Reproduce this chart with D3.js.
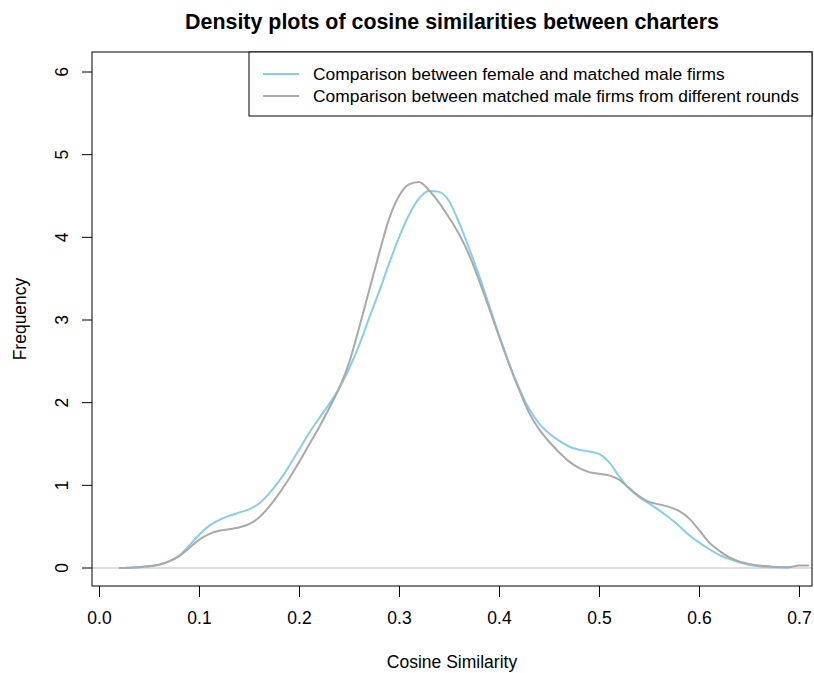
<!DOCTYPE html>
<html>
<head>
<meta charset="utf-8">
<script src="https://cdn.jsdelivr.net/npm/d3@7"></script>
<style>
  body { margin: 0; background: #fff; }
  text { font-family: "Liberation Sans", Arial, sans-serif; fill: #000; }
</style>
</head>
<body>
<div id="chart"></div>
<script>
// grid of x positions (cosine similarity)
var xs = [0.02,0.03,0.04,0.05,0.06,0.07,0.08,0.09,0.10,0.11,0.12,0.13,0.14,0.15,0.16,0.17,0.18,0.19,
          0.20,0.21,0.22,0.23,0.24,0.25,0.26,0.27,0.28,0.29,0.30,0.31,0.32,0.33,0.34,0.35,0.36,0.37,0.38,0.39,
          0.40,0.41,0.42,0.43,0.44,0.45,0.46,0.47,0.48,0.49,0.50,0.51,0.52,0.53,0.54,0.55,0.56,0.57,0.58,0.59,
          0.60,0.61,0.62,0.63,0.64,0.65,0.66,0.67,0.68,0.69,0.70,0.71];

// female vs matched male firms
var femaleMale = [0.00,0.003,0.01,0.02,0.04,0.08,0.15,0.27,0.40,0.51,0.58,0.63,0.67,0.71,0.78,0.90,1.05,1.23,
                  1.43,1.63,1.81,1.98,2.17,2.41,2.69,3.02,3.34,3.68,4.00,4.27,4.47,4.56,4.55,4.44,4.18,3.87,3.54,3.18,
                  2.82,2.48,2.18,1.93,1.75,1.63,1.54,1.47,1.43,1.41,1.38,1.28,1.11,0.96,0.86,0.78,0.70,0.61,0.51,0.40,
                  0.31,0.23,0.16,0.11,0.07,0.04,0.02,0.01,0.01,0.005];

// matched male firms from different rounds
var maleRounds = [0.00,0.003,0.01,0.02,0.04,0.08,0.14,0.24,0.34,0.41,0.45,0.47,0.49,0.53,0.61,0.74,0.90,1.08,
                  1.28,1.49,1.70,1.93,2.17,2.48,2.90,3.35,3.80,4.22,4.50,4.64,4.67,4.57,4.42,4.24,4.04,3.79,3.48,3.15,
                  2.80,2.47,2.16,1.88,1.68,1.53,1.40,1.29,1.21,1.16,1.14,1.12,1.07,0.97,0.87,0.80,0.77,0.74,0.69,0.60,
                  0.46,0.31,0.21,0.13,0.08,0.05,0.03,0.02,0.01,0.01,0.03,0.03];

var xTicks = [0.0,0.1,0.2,0.3,0.4,0.5,0.6,0.7];
var yTicks = [0,1,2,3,4,5,6];
var legendLabels = ["Comparison between female and matched male firms",
                    "Comparison between matched male firms from different rounds"];
var colors = ["#87ceeb", "#a9a9a9"];

var W = 814, H = 673;
var box = {left: 92, right: 812, top: 52, bottom: 586};

var svg = d3.select("#chart")
    .append("svg")
    .attr("width", W)
    .attr("height", H);

var x = d3.scaleLinear().domain([0, 0.7]).range([99, 799]);
var y = d3.scaleLinear().domain([0, 6]).range([568, 72]);

// zero line
svg.append("line")
    .attr("x1", box.left).attr("x2", box.right)
    .attr("y1", y(0)).attr("y2", y(0))
    .attr("stroke", "#d3d3d3").attr("stroke-width", 1.5);

// density lines
var series = [femaleMale, maleRounds];
var line = d3.line()
    .x(function(d) { return x(d[0]); })
    .y(function(d) { return y(d[1]); })
    .curve(d3.curveMonotoneX);

series.forEach(function(vals, i) {
    var pts = vals.map(function(v, j) { return [xs[j], v]; });
    svg.append("path")
        .datum(pts)
        .attr("fill", "none")
        .attr("stroke", colors[i])
        .attr("stroke-width", 2)
        .attr("d", line);
});

// box
svg.append("rect")
    .attr("x", box.left).attr("y", box.top)
    .attr("width", box.right - box.left).attr("height", box.bottom - box.top)
    .attr("fill", "none").attr("stroke", "#000").attr("stroke-width", 1);

// x axis
var xAxis = svg.append("g")
    .attr("transform", "translate(0," + box.bottom + ")")
    .call(d3.axisBottom(x).tickValues(xTicks).tickFormat(d3.format(".1f")).tickSize(11).tickPadding(15));
xAxis.select(".domain").remove();
xAxis.selectAll("text").style("font-size", "17.5px").attr("font-family", "Liberation Sans, Arial, sans-serif");

// y axis
var yAxis = svg.append("g")
    .attr("transform", "translate(" + box.left + ",0)")
    .call(d3.axisLeft(y).tickValues(yTicks).tickSize(10).tickFormat(d3.format("d")));
yAxis.select(".domain").remove();
yAxis.selectAll(".tick").attr("transform", null);
yAxis.selectAll(".tick line")
    .attr("y1", function(d) { return y(d); })
    .attr("y2", function(d) { return y(d); });
yAxis.selectAll(".tick text")
    .attr("x", 0).attr("y", 0)
    .attr("dy", "0.35em")
    .attr("text-anchor", "middle")
    .attr("transform", function(d) { return "translate(-30," + y(d) + ") rotate(-90)"; })
    .style("font-size", "17.5px")
    .attr("font-family", "Liberation Sans, Arial, sans-serif");

// title and axis labels
svg.append("text")
    .attr("x", (box.left + box.right) / 2).attr("y", 29)
    .attr("text-anchor", "middle")
    .style("font-size", "21.4px").style("font-weight", "bold")
    .text("Density plots of cosine similarities between charters");

svg.append("text")
    .attr("x", (box.left + box.right) / 2).attr("y", 668)
    .attr("text-anchor", "middle")
    .style("font-size", "17.5px")
    .text("Cosine Similarity");

svg.append("text")
    .attr("transform", "translate(26," + ((box.top + box.bottom) / 2) + ") rotate(-90)")
    .attr("text-anchor", "middle")
    .style("font-size", "17.5px")
    .text("Frequency");

// legend
var lg = svg.append("g");
lg.append("rect")
    .attr("x", 249).attr("y", box.top)
    .attr("width", box.right - 249).attr("height", 64)
    .attr("fill", "#fff").attr("stroke", "#000").attr("stroke-width", 1);
legendLabels.forEach(function(lab, i) {
    var ly = 74 + i * 22;
    lg.append("line")
        .attr("x1", 263).attr("x2", 299)
        .attr("y1", ly).attr("y2", ly)
        .attr("stroke", colors[i]).attr("stroke-width", 2);
    lg.append("text")
        .attr("x", 313).attr("y", ly)
        .attr("dy", "0.35em")
        .style("font-size", "17.4px")
        .text(lab);
});
</script>
</body>
</html>
